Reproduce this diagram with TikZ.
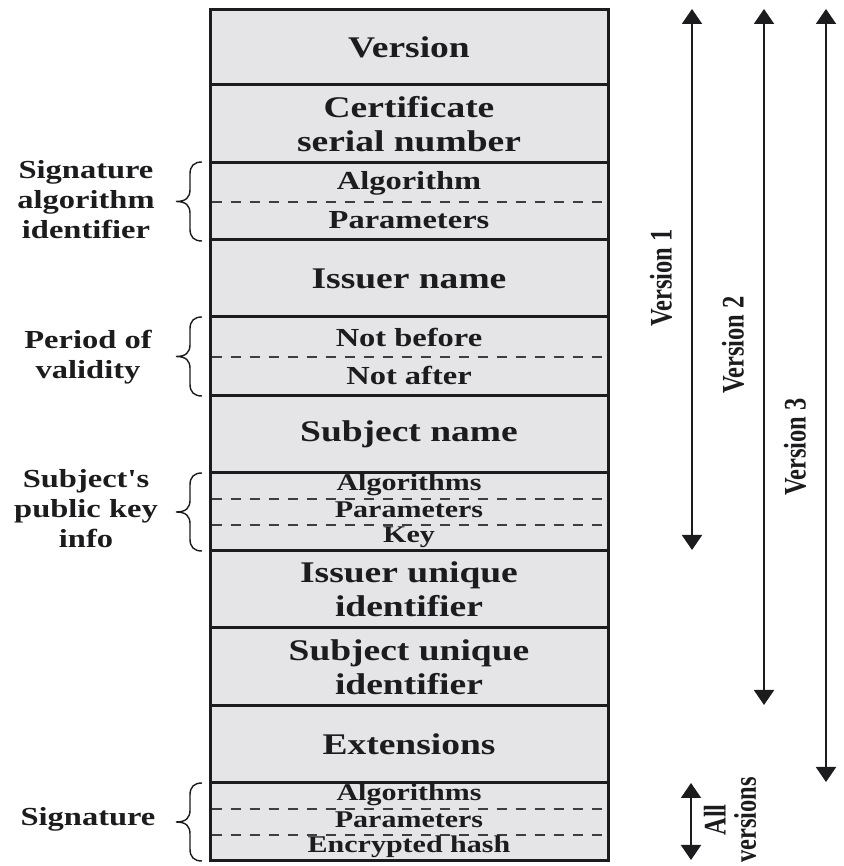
\documentclass[tikz,border=0pt]{standalone}
\usepackage{fontspec}
\usepackage{graphicx}
\usetikzlibrary{arrows.meta}
% Wide bold serif for the field labels, plain one for the rotated span labels
\newfontfamily\widefont[FakeStretch=1.25]{Liberation Serif}
\newfontfamily\narrowfont{Liberation Serif}
\definecolor{cellfill}{RGB}{229,229,231}
\definecolor{ink}{RGB}{28,28,30}
\newcommand\tallbox[1]{\scalebox{1}[1.28]{#1}}
% curly brace on the left of a field: x of its ends, top y, bottom y
\newcommand\sidebrace[3]{%
  \pgfmathsetmacro\bmid{(#2+#3)/2}%
  \draw[curly] (#1,#2) .. controls (#1-8,#2) and (#1-12,#2-4) .. (#1-12,#2-12)
    -- (#1-12,\bmid+12) .. controls (#1-12,\bmid+4) and (#1-16,\bmid) .. (#1-26,\bmid)
    .. controls (#1-16,\bmid) and (#1-12,\bmid-4) .. (#1-12,\bmid-12)
    -- (#1-12,#3+12) .. controls (#1-12,#3+4) and (#1-8,#3) .. (#1,#3);}
\begin{document}
\begin{tikzpicture}[x=1pt,y=1pt,
  field/.style={draw=ink, line width=3pt, fill=cellfill, minimum width=398pt,
    inner sep=0pt, outer sep=0pt, anchor=north},
  bigtext/.style={font=\widefont\bfseries\fontsize{30}{34}\selectfont, text=ink, align=center},
  subtext/.style={font=\widefont\bfseries\fontsize{26}{30}\selectfont, text=ink,
    inner sep=0pt, anchor=base},
  smalltext/.style={font=\widefont\bfseries\fontsize{24}{26}\selectfont, text=ink,
    inner sep=0pt, anchor=base},
  sidetext/.style={font=\widefont\bfseries\fontsize{26}{30}\selectfont, text=ink,
    align=center, inner sep=0pt},
  verttext/.style={font=\narrowfont\bfseries\fontsize{24.5}{22}\selectfont, text=ink,
    rotate=90, inner sep=0pt},
  divider/.style={draw=ink!85, line width=1.8pt, dash pattern=on 10pt off 9pt},
  span/.style={draw=ink, line width=2pt,
    {Triangle[width=20pt,length=15pt]}-{Triangle[width=20pt,length=15pt]}},
  curly/.style={draw=ink, line width=1.4pt},
]
\useasboundingbox (0,0) rectangle (843,866);

% certificate fields, top to bottom
\node[field, bigtext, minimum height=75pt] (version) at (409,856) {Version};
\node[field, bigtext, minimum height=78pt] (serial) at (409,781) {Certificate\\serial number};
\node[field, minimum height=77pt] (sigalg) at (409,703) {};
\node[field, bigtext, minimum height=77pt] (issuer) at (409,626) {Issuer name};
\node[field, minimum height=79pt] (validity) at (409,549) {};
\node[field, bigtext, minimum height=77pt] (subject) at (409,470) {Subject name};
\node[field, minimum height=78pt] (pubkey) at (409,393) {};
\node[field, bigtext, minimum height=77pt] (issuerid) at (409,315) {Issuer unique\\identifier};
\node[field, bigtext, minimum height=78pt] (subjectid) at (409,238) {Subject unique\\identifier};
\node[field, bigtext, minimum height=77pt] (extensions) at (409,160) {Extensions};
\node[field, minimum height=78pt] (signature) at (409,83) {};

% sub-fields (placed by baseline)
\draw[divider] (211.5,664) -- (606.5,664);
\node[subtext] (sigalgA) at (409,676) {Algorithm};
\node[subtext] (sigalgP) at (409,637) {Parameters};

\draw[divider] (211.5,509) -- (606.5,509);
\node[subtext] (notbefore) at (409,519) {Not before};
\node[subtext] (notafter) at (409,481) {Not after};

\draw[divider] (211.5,367) -- (606.5,367);
\draw[divider] (211.5,341) -- (606.5,341);
\node[smalltext] (pkA) at (409,375) {Algorithms};
\node[smalltext] (pkP) at (409,348) {Parameters};
\node[smalltext] (pkK) at (409,323) {Key};

\draw[divider] (211.5,57) -- (606.5,57);
\draw[divider] (211.5,31) -- (606.5,31);
\node[smalltext] (sigA) at (409,65) {Algorithms};
\node[smalltext] (sigP) at (409,38) {Parameters};
\node[smalltext] (sigH) at (409,13) {Encrypted hash};

% group labels with braces
\node[sidetext] (sigalglabel) at (86,666) {Signature\\algorithm\\identifier};
\node[sidetext] (validlabel) at (88,509) {Period of\\validity};
\node[sidetext] (keylabel) at (86,357) {Subject's\\public key\\info};
\node[sidetext] (siglabel) at (88,47) {Signature};
\sidebrace{202}{704}{625}
\sidebrace{202}{549}{470}
\sidebrace{202}{393}{315}
\sidebrace{202}{83}{5}

% version spans
\coordinate (v1top) at (692,857);
\coordinate (v1bot) at (692,316);
\coordinate (v2top) at (764,857);
\coordinate (v2bot) at (764,161);
\coordinate (v3top) at (826,857);
\coordinate (v3bot) at (826,84);
\coordinate (alltop) at (691,83);
\coordinate (allbot) at (691,6);
\draw[span] (v1top) -- (v1bot);
\draw[span] (v2top) -- (v2bot);
\draw[span] (v3top) -- (v3bot);
\draw[span] (alltop) -- (allbot);

\node[verttext] (v1label) at (661,588) {\tallbox{Version 1}};
\node[verttext] (v2label) at (733,521) {\tallbox{Version 2}};
\node[verttext] (v3label) at (795,419) {\tallbox{Version 3}};
\node[verttext] (alllabel) at (734,46)
  {\tallbox{\begin{tabular}{@{}c@{}}All\\versions\end{tabular}}};
\end{tikzpicture}
\end{document}
